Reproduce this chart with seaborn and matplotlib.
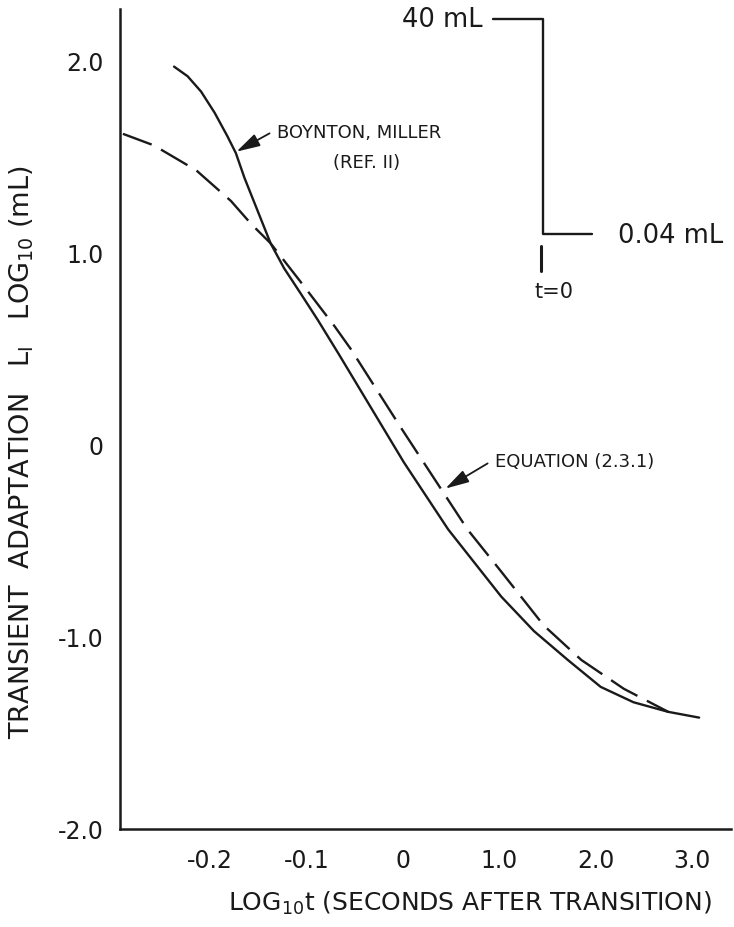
import matplotlib
matplotlib.use("Agg")
import matplotlib.pyplot as plt
import seaborn as sns
import pandas as pd

# ---- data (x as position index along the ticked axis; -0.2 -> 1 ... 3.0 -> 6) ----
x_tick_pos = [1, 2, 3, 4, 5, 6]
x_tick_labels = ["-0.2", "-0.1", "0", "1.0", "2.0", "3.0"]
y_ticks = [-2.0, -1.0, 0.0, 1.0, 2.0]
y_tick_labels = ["-2.0", "-1.0", "0", "1.0", "2.0"]

boynton_x = [0.63, 0.77, 0.91, 1.05, 1.18, 1.27, 1.36, 1.63, 1.77, 1.94, 2.12, 2.34,
             3.01, 3.47, 4.02, 4.36, 4.71, 5.05, 5.39, 5.75, 6.07]
boynton_y = [1.97, 1.92, 1.84, 1.73, 1.61, 1.52, 1.39, 1.05, 0.92, 0.79, 0.65, 0.47,
             -0.09, -0.44, -0.79, -0.97, -1.12, -1.26, -1.34, -1.39, -1.42]

equation_x = [0.10, 0.42, 0.86, 1.22, 1.43, 1.63, 1.94, 2.29, 2.46, 2.98, 3.67,
              4.02, 4.46, 4.85, 5.29, 5.75]
equation_y = [1.62, 1.56, 1.43, 1.27, 1.15, 1.05, 0.85, 0.62, 0.50, 0.09, -0.44,
              -0.66, -0.94, -1.12, -1.27, -1.39]

W, H = 734, 928
INK = "#1a1a1a"
sns.set_theme(style="white")
plt.rcParams['font.family'] = ['DejaVu Sans']

fig = plt.figure(figsize=(W / 100, H / 100), dpi=100)
ax = fig.add_axes([120 / W, (H - 830) / H, (731 - 120) / W, (830 - 10) / H])

df_b = pd.DataFrame({"x": boynton_x, "y": boynton_y})
df_e = pd.DataFrame({"x": equation_x, "y": equation_y})
sns.lineplot(data=df_b, x="x", y="y", sort=False, estimator=None, color=INK,
             linewidth=1.7, ax=ax)
sns.lineplot(data=df_e, x="x", y="y", sort=False, estimator=None, color=INK,
             linewidth=1.7, ax=ax)
ax.lines[-1].set_dashes([13, 4.5])
for ln in ax.lines:
    ln.set_solid_joinstyle("round")
    ln.set_dash_joinstyle("round")

ax.set_xlim(0.07, 6.40)
ax.set_ylim(-2.0, 2.27)
ax.set_xticks(x_tick_pos)
ax.set_xticklabels(x_tick_labels)
ax.set_yticks(y_ticks)
ax.set_yticklabels(y_tick_labels)

for s in ["top", "right"]:
    ax.spines[s].set_visible(False)
for s in ["left", "bottom"]:
    ax.spines[s].set_color(INK)
    ax.spines[s].set_linewidth(1.8)
ax.tick_params(axis="both", direction="in", length=14, width=1.6, color=INK,
               labelsize=17, labelcolor=INK)
ax.tick_params(axis="x", pad=14)
ax.tick_params(axis="y", pad=12)
ax.grid(False)

ax.set_xlabel(r"LOG$_\mathregular{10}$t (SECONDS AFTER TRANSITION)", fontsize=18,
              color=INK)
ax.xaxis.set_label_coords((470 - 120) / 611, -(890 - 830) / 820)
ax.set_ylabel(r"TRANSIENT  ADAPTATION   L$_\mathregular{I}$   LOG$_\mathregular{10}$ (mL)",
              fontsize=19.5, color=INK)
ax.yaxis.set_label_coords(-(120 - 36) / 611, (830 - 452) / 820)

inv = ax.transData.inverted()
def P(px, py):
    return tuple(inv.transform((px, H - py)))

txt = dict(color=INK, fontsize=13)
ax.text(*P(277, 133), "BOYNTON, MILLER", ha="left", va="center", **txt)
ax.text(*P(367, 163), "(REF. II)", ha="center", va="center", **txt)
ax.annotate("", xy=P(234, 154), xytext=P(272, 133),
            arrowprops=dict(arrowstyle="-|>,head_length=0.9,head_width=0.25",
                            color=INK, lw=1.3, mutation_scale=16))
ax.text(*P(495, 462), "EQUATION (2.3.1)", ha="left", va="center", **txt)
ax.annotate("", xy=P(443, 491), xytext=P(490, 463),
            arrowprops=dict(arrowstyle="-|>,head_length=0.9,head_width=0.25",
                            color=INK, lw=1.3, mutation_scale=16))

# step inset (luminance transition at t = 0)
sx = [P(493, 20)[0], P(543, 20)[0], P(543, 235)[0], P(592, 235)[0]]
sy = [P(493, 20)[1], P(543, 20)[1], P(543, 235)[1], P(592, 235)[1]]
ax.plot(sx, sy, color=INK, lw=1.7, clip_on=False)
ax.plot([P(541, 247)[0]] * 2, [P(541, 247)[1], P(541, 272)[1]], color=INK, lw=2.2)
ax.text(*P(483, 20), "40 mL", ha="right", va="center", color=INK, fontsize=18.5)
ax.text(*P(618, 236), "0.04 mL", ha="left", va="center", color=INK, fontsize=18.5)
ax.text(*P(554, 292), "t=0", ha="center", va="center", color=INK, fontsize=15)

fig.savefig("out.png", dpi=100)
